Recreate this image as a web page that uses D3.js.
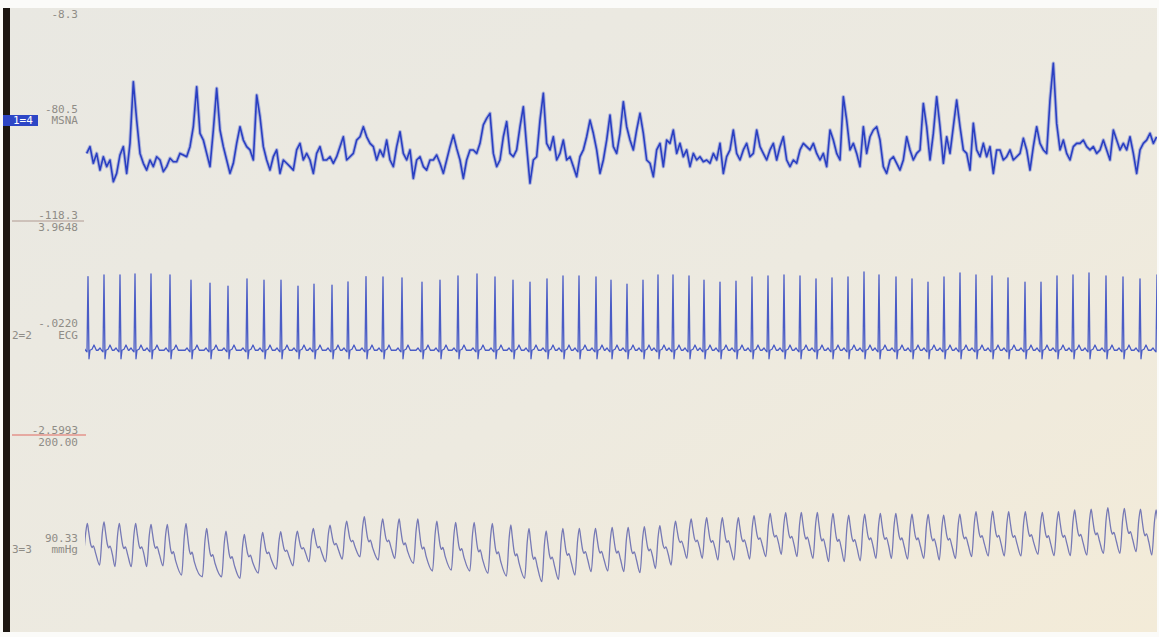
<!DOCTYPE html>
<html>
<head>
<meta charset="utf-8">
<script src="https://cdn.jsdelivr.net/npm/d3@7"></script>
<style>
  html, body { margin: 0; padding: 0; background: #fbfbf9; }
  svg { display: block; }
  text { font-family: "DejaVu Sans Mono", "Liberation Mono", monospace; }
</style>
</head>
<body>
<svg id="chart" width="1159" height="637"></svg>
<script>
// ---------------- DATA ----------------
// Time window shown (s)
const timeSpan = [0, 64.74];

// MSNA (channel 1) – sampled every 0.2 s starting at 0.4 s, channel units
const msnaStart = 0.4;
const msnaStep = 0.2;
const msnaValues = [
  -83.4, -79.9, -88.5, -83.4, -92.0, -85.1, -90.2, -86.8, -98.0, -93.7,
  -84.2, -79.9, -93.7, -78.2, -46.4, -66.2, -83.4, -88.5, -92.0, -86.8,
  -90.2, -85.1, -86.8, -92.8, -90.2, -85.9, -87.7, -87.7, -83.4, -84.2,
  -85.1, -79.9, -69.6, -49.0, -73.0, -76.5, -83.4, -90.2, -71.3, -49.8,
  -71.3, -79.9, -86.8, -93.7, -88.5, -78.2, -69.6, -76.5, -79.9, -81.6,
  -86.8, -53.3, -64.4, -79.9, -86.8, -92.0, -85.1, -81.6, -93.7, -86.8,
  -88.5, -90.2, -92.0, -81.6, -78.2, -86.8, -83.4, -86.8, -93.7, -83.4,
  -79.9, -86.8, -86.8, -85.1, -88.5, -85.1, -79.9, -74.8, -86.8, -85.1,
  -83.4, -76.5, -74.8, -69.6, -74.8, -78.2, -79.9, -86.8, -81.6, -85.1,
  -76.5, -86.8, -90.2, -79.9, -72.2, -83.4, -86.8, -81.6, -96.3, -86.8,
  -85.1, -90.2, -92.0, -86.8, -86.8, -84.2, -88.5, -93.7, -86.8, -79.9,
  -73.9, -80.8, -86.8, -96.3, -86.8, -81.6, -81.6, -83.4, -78.2, -68.7,
  -65.3, -62.7, -83.4, -90.2, -86.8, -74.8, -67.0, -83.4, -85.1, -81.6,
  -69.6, -59.3, -79.9, -98.8, -86.8, -85.1, -66.2, -52.4, -78.2, -81.6,
  -74.8, -86.8, -83.4, -76.5, -86.8, -85.1, -90.2, -95.4, -85.1, -81.6,
  -74.8, -66.2, -73.0, -81.6, -93.7, -86.8, -76.5, -63.6, -79.9, -83.4,
  -73.0, -56.7, -69.6, -76.5, -81.6, -71.3, -62.7, -73.0, -86.8, -88.5,
  -95.4, -81.6, -78.2, -90.2, -76.5, -78.2, -71.3, -83.4, -78.2, -85.1,
  -81.6, -90.2, -83.4, -86.8, -85.1, -87.7, -86.8, -88.5, -83.4, -86.8,
  -78.2, -93.7, -85.1, -81.6, -71.3, -83.4, -86.8, -81.6, -78.2, -85.1,
  -83.4, -71.3, -79.9, -83.4, -86.8, -81.6, -78.2, -86.8, -79.9, -74.8,
  -86.8, -90.2, -86.8, -88.5, -81.6, -78.2, -79.9, -81.6, -78.2, -83.4,
  -86.8, -83.4, -90.2, -71.3, -76.5, -83.4, -86.8, -54.1, -66.2, -81.6,
  -78.2, -83.4, -90.2, -69.6, -83.4, -74.8, -71.3, -69.6, -76.5, -90.2,
  -93.7, -86.8, -85.1, -88.5, -92.0, -86.8, -74.8, -81.6, -86.8, -83.4,
  -81.6, -57.6, -69.6, -86.8, -73.0, -54.1, -69.6, -88.5, -74.8, -83.4,
  -69.6, -55.8, -69.6, -81.6, -83.4, -92.0, -67.9, -81.6, -85.1, -78.2,
  -85.1, -79.9, -93.7, -81.6, -81.6, -86.8, -85.1, -81.6, -86.8, -85.1,
  -83.4, -75.6, -81.6, -92.0, -79.9, -69.6, -78.2, -81.6, -83.4, -55.8,
  -36.9, -67.9, -81.6, -76.5, -83.4, -86.8, -79.9, -78.2, -78.2, -76.5,
  -79.9, -81.6, -79.9, -83.4, -81.6, -76.5, -81.6, -86.8, -71.3, -76.5,
  -81.6, -78.2, -81.6, -74.8, -83.4, -93.7, -81.6, -78.2, -76.5, -73.0,
  -78.2, -74.8
];

// ECG (channel 2) – R-wave times (s) and R amplitudes (mV)
const ecgRTimes = [
  0.48, 1.44, 2.40, 3.30, 4.26, 5.40, 6.66, 7.80, 8.88, 10.02,
  11.04, 12.06, 13.08, 14.04, 15.12, 16.08, 17.16, 18.18, 19.32, 20.52,
  21.60, 22.68, 23.82, 24.90, 25.98, 27.00, 28.02, 28.98, 29.94, 30.96,
  31.86, 32.82, 33.78, 34.68, 35.58, 36.54, 37.44, 38.40, 39.36, 40.32,
  41.28, 42.24, 43.20, 44.16, 45.12, 46.08, 47.04, 47.94, 48.96, 49.92,
  50.88, 51.84, 52.80, 53.76, 54.72, 55.68, 56.70, 57.66, 58.62, 59.58,
  60.54, 61.56, 62.58, 63.60, 64.62
];
const ecgRAmps = [
  2.26, 2.31, 2.31, 2.34, 2.34, 2.31, 2.15, 2.06, 1.97, 2.19,
  2.15, 2.15, 1.97, 2.03, 2.00, 2.10, 2.26, 2.25, 2.22, 2.09,
  2.15, 2.28, 2.34, 2.25, 2.15, 2.09, 2.19, 2.28, 2.28, 2.25,
  2.15, 2.03, 2.15, 2.31, 2.31, 2.28, 2.15, 2.09, 2.12, 2.25,
  2.28, 2.31, 2.28, 2.19, 2.22, 2.25, 2.40, 2.31, 2.25, 2.19,
  2.09, 2.25, 2.37, 2.31, 2.28, 2.22, 2.09, 2.09, 2.28, 2.31,
  2.37, 2.28, 2.25, 2.19, 2.31
];
// One PQRST complex: offsets from R (s) and values (mV); null = R amplitude
const ecgShapeT = [-0.36, -0.24, -0.15, -0.06, 0, 0.06, 0.12, 0.24, 0.36, 0.50];
const ecgShapeV = [0, 0.07, 0, -0.05, null, -0.26, 0, 0.03, 0.16, 0];

// Blood pressure (channel 3) – systolic peak times (s), systolic and preceding diastolic (mmHg)
const bpPeakTimes = [
  0.44, 1.44, 2.36, 3.34, 4.26, 5.24, 6.36, 7.60, 8.76, 9.86,
  10.96, 12.04, 13.04, 14.00, 15.00, 16.00, 17.06, 18.16, 19.15, 20.27,
  21.41, 22.54, 23.65, 24.74, 25.85, 26.94, 27.97, 28.97, 29.96, 30.93,
  31.93, 32.89, 33.86, 34.79, 35.73, 36.67, 37.60, 38.54, 39.50, 40.44,
  41.41, 42.34, 43.28, 44.24, 45.18, 46.12, 47.08, 48.02, 48.95, 49.92,
  50.89, 51.82, 52.79, 53.76, 54.76, 55.72, 56.72, 57.74, 58.71, 59.68,
  60.67, 61.67, 62.66, 63.63, 64.57
];
const bpSys = [
  117.4, 118.9, 117.4, 117.4, 116.5, 116.5, 117.4, 112.7, 110.2, 107.1,
  109.0, 109.6, 110.2, 112.7, 115.8, 119.6, 123.6, 121.5, 121.5, 121.5,
  119.6, 118.4, 118.4, 117.4, 115.9, 112.8, 110.3, 112.8, 112.8, 112.8,
  113.7, 113.7, 114.3, 115.2, 119.6, 121.5, 122.7, 122.7, 122.7, 124.6,
  126.8, 127.4, 127.7, 127.7, 126.8, 125.2, 126.1, 126.8, 126.8, 126.1,
  125.8, 125.2, 126.1, 128.3, 128.9, 128.3, 128.3, 127.7, 128.3, 129.9,
  130.8, 132.1, 131.4, 130.8, 129.9
];
const bpDia = [
  80.0, 78.5, 76.9, 76.9, 76.9, 77.8, 69.1, 67.5, 67.5, 66.0,
  71.0, 74.7, 77.8, 81.5, 81.5, 84.1, 86.2, 83.2, 84.7, 80.0,
  72.9, 73.8, 72.9, 70.7, 68.2, 66.0, 62.9, 65.1, 69.1, 72.3,
  72.9, 72.3, 71.3, 75.4, 78.5, 84.7, 84.7, 83.2, 83.2, 84.1,
  86.3, 88.5, 86.3, 84.7, 81.6, 81.6, 82.5, 84.7, 84.7, 84.1,
  84.7, 83.2, 84.7, 86.3, 86.9, 86.9, 86.9, 88.5, 87.2, 87.2,
  87.8, 89.4, 89.4, 91.0, 87.8
];
// One pulse: offsets from systolic peak (s) and fraction of pulse pressure
const bpShapeT = [-0.26, -0.10, 0, 0.08, 0.20, 0.28, 0.36, 0.50];
const bpShapeF = [0, 0.75, 1, 0.80, 0.50, 0.42, 0.46, 0.28];

// Channel annotations (text)
const channelTags   = ["1=4", "2=2", "3=3"];
const channelNames  = ["MSNA", "ECG", "mmHg"];
const channelTop    = ["-8.3", "3.9648", "200.00"];
const channelBottom = ["-118.3", "-2.5993", ""];
const channelValue  = ["-80.5", "-.0220", "90.33"];
const channelRanges = [[-118.3, -8.3], [-2.5993, 3.9648], [0, 200]];

// ---------------- DRAW ----------------
const W = 1159, H = 637;
const svg = d3.select("#chart");
const defs = svg.append("defs");

const grad = defs.append("linearGradient").attr("id", "bg")
  .attr("x1", "0").attr("y1", "0").attr("x2", "1").attr("y2", "1");
grad.append("stop").attr("offset", "0").attr("stop-color", "#e9e8e2");
grad.append("stop").attr("offset", "0.55").attr("stop-color", "#edeae0");
grad.append("stop").attr("offset", "1").attr("stop-color", "#f3ebd8");

const screen = { x0: 3, x1: 1157, y0: 8, y1: 632 };
svg.append("rect").attr("x", 0).attr("y", 0).attr("width", W).attr("height", H).attr("fill", "#fbfbf9");
svg.append("rect").attr("x", screen.x0).attr("y", screen.y0)
  .attr("width", screen.x1 - screen.x0).attr("height", screen.y1 - screen.y0)
  .attr("fill", "url(#bg)");
// dark bezel at the left
svg.append("rect").attr("x", screen.x0).attr("y", screen.y0)
  .attr("width", 7).attr("height", screen.y1 - screen.y0).attr("fill", "#1d1712");

defs.append("clipPath").attr("id", "traceClip").append("rect")
  .attr("x", 85).attr("y", screen.y0).attr("width", screen.x1 - 85).attr("height", screen.y1 - screen.y0);

const x = d3.scaleLinear().domain(timeSpan).range([80, 1159]);
const paneTops = [8, 221, 435];
const paneH = 214;
const yScales = channelRanges.map((r, i) =>
  d3.scaleLinear().domain(r).range([paneTops[i] + (i === 0 ? 213 : paneH), paneTops[i]]));
const [y1, y2, y3] = yScales;

const traces = svg.append("g").attr("clip-path", "url(#traceClip)");

// MSNA – soft wide underlay imitates the dense, fuzzy screen trace
const msnaPts = msnaValues.map((v, i) => [msnaStart + i * msnaStep, v]);
const msnaLine = d3.line().x(d => x(d[0])).y(d => y1(d[1]));
traces.append("path")
  .datum(msnaPts)
  .attr("fill", "none")
  .attr("stroke", "#3a50cc")
  .attr("stroke-opacity", 0.35)
  .attr("stroke-width", 3.6)
  .attr("stroke-linejoin", "round")
  .attr("d", msnaLine);
traces.append("path")
  .datum(msnaPts)
  .attr("fill", "none")
  .attr("stroke", "#2a3fc2")
  .attr("stroke-width", 1.6)
  .attr("stroke-linejoin", "round")
  .attr("d", msnaLine);

// ECG
const ecgPts = [];
ecgRTimes.forEach((tr, i) => {
  ecgShapeT.forEach((dt, j) => {
    const v = ecgShapeV[j] === null ? ecgRAmps[i] : ecgShapeV[j];
    ecgPts.push([tr + dt, v]);
  });
});
ecgPts.sort((a, b) => a[0] - b[0]);
traces.append("path")
  .datum(ecgPts)
  .attr("fill", "none")
  .attr("stroke", "#4a5cc6")
  .attr("stroke-width", 1.3)
  .attr("stroke-linejoin", "round")
  .attr("d", d3.line().x(d => x(d[0])).y(d => y2(d[1])));

// Blood pressure
const bpPts = [];
bpPeakTimes.forEach((tp, i) => {
  const sys = bpSys[i], dia = bpDia[i];
  const dn = i + 1 < bpDia.length ? bpDia[i + 1] : dia;
  bpShapeT.forEach((dt, j) => {
    const base = dt < 0 ? dia : dn;
    bpPts.push([tp + dt, base + bpShapeF[j] * (sys - base)]);
  });
});
traces.append("path")
  .datum(bpPts)
  .attr("fill", "none")
  .attr("stroke", "#7679b5")
  .attr("stroke-width", 1.3)
  .attr("stroke-linejoin", "round")
  .attr("d", d3.line().curve(d3.curveMonotoneX).x(d => x(d[0])).y(d => y3(d[1])));

// ---------------- LABELS ----------------
const lab = svg.append("g").attr("font-size", 11).attr("fill", "#8f8c86").attr("text-anchor", "end");
const labelX = 78;
const labelY = [
  { top: 18, value: 113, name: 124, bottom: 219, tagY: 124 },
  { top: 231, value: 327, name: 339, bottom: 434, tagY: 339 },
  { top: 446, value: 542, name: 553, bottom: null, tagY: 553 }
];
// separators between panes
svg.append("line").attr("x1", 12).attr("x2", 84).attr("y1", y1.range()[0]).attr("y2", y1.range()[0])
  .attr("stroke", "#b09a92").attr("stroke-width", 1);
svg.append("line").attr("x1", 12).attr("x2", 86).attr("y1", y2.range()[0]).attr("y2", y2.range()[0])
  .attr("stroke", "#e06a62").attr("stroke-width", 1.2);

channelNames.forEach((nm, i) => {
  const L = labelY[i];
  lab.append("text").attr("x", labelX).attr("y", L.top).text(channelTop[i]);
  lab.append("text").attr("x", labelX).attr("y", L.value).text(channelValue[i]);
  lab.append("text").attr("x", labelX).attr("y", L.name).text(nm);
  if (L.bottom !== null && channelBottom[i]) {
    lab.append("text").attr("x", labelX).attr("y", L.bottom).text(channelBottom[i]);
  }
});

// channel tags
svg.append("rect").attr("x", 3).attr("y", 115).attr("width", 35).attr("height", 11).attr("fill", "#2d46c6");
svg.append("text").attr("x", 13).attr("y", 124).attr("font-size", 11).attr("fill", "#ffffff").text(channelTags[0]);
svg.append("text").attr("x", 12).attr("y", labelY[1].tagY).attr("font-size", 11).attr("fill", "#8f8c86").text(channelTags[1]);
svg.append("text").attr("x", 12).attr("y", labelY[2].tagY).attr("font-size", 11).attr("fill", "#8f8c86").text(channelTags[2]);
</script>
</body>
</html>
